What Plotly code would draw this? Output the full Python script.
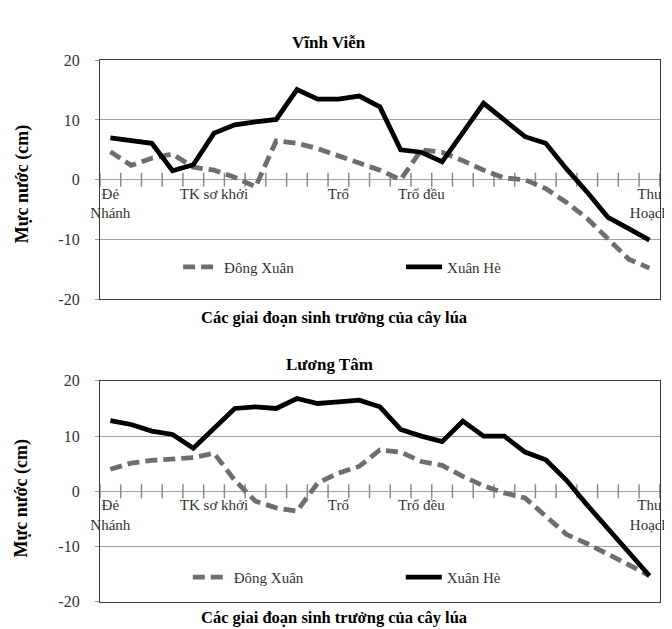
import plotly.graph_objects as go

# ---------------- data ----------------
stage_index = list(range(27))
label_index = [0, 5, 11, 15, 26]
label_text = ["Đẻ<br>Nhánh", "TK sơ khởi", "Trổ", "Trổ đều", "Thu<br>Hoạch"]
boundary_ticks = [-0.5 + i for i in range(28)]
y_ticks = [-20, -10, 0, 10, 20]
y_tick_text = ["-20", "-10", "0", "10", "20"]

vinh_vien_dong_xuan = [4.7, 2.4, 3.6, 4.3, 2.1, 1.6, 0.4, -1.2, 6.5, 6.1, 5.2, 4.1, 2.8, 1.6, 0.0,
                       5.0, 4.6, 3.2, 1.6, 0.3, 0.0, -1.5, -3.8, -6.5, -10.0, -13.3, -14.8]
vinh_vien_xuan_he = [7.0, 6.5, 6.1, 1.5, 2.5, 7.8, 9.2, 9.7, 10.1, 15.1, 13.5, 13.5, 14.0, 12.2, 5.0,
                     4.6, 3.0, 7.9, 12.8, 10.0, 7.2, 6.1, 1.8, -2.1, -6.3, -8.2, -10.1]
luong_tam_dong_xuan = [4.0, 5.1, 5.6, 5.8, 6.1, 6.9, 2.0, -1.8, -3.0, -3.6, 1.5, 3.3, 4.5, 7.5, 7.1,
                       5.4, 4.7, 2.7, 1.0, -0.3, -1.2, -4.5, -7.8, -9.5, -11.3, -13.3, -15.3]
luong_tam_xuan_he = [12.8, 12.1, 10.9, 10.3, 7.8, 11.5, 15.0, 15.3, 15.0, 16.8, 15.9, 16.2, 16.5, 15.3,
                     11.2, 10.0, 9.0, 12.7, 10.0, 10.0, 7.1, 5.7, 2.0, -2.5, -6.8, -11.2, -15.3]

chart_titles = ["Vĩnh Viễn", "Lương Tâm"]
series_names = ["Đông Xuân", "Xuân Hè"]
x_title = "Các giai đoạn sinh trưởng của cây lúa"
y_title = "Mực nước (cm)"

# ---------------- style ----------------
W, H = 672, 629
SERIF = "Liberation Serif"
GRAY = "#6e6e6e"
FRAME = "#3a3a3a"
GRID = "#a0a0a0"


def py(px):
    return 1 - px / H


x_dom = [84.5 / W, 661.5 / W]
top_dom = [py(291), py(45.5)]
bot_dom = [py(602), py(375)]

fig = go.Figure()

panels = [
    (vinh_vien_dong_xuan, vinh_vien_xuan_he, "x", "y", "legend", "x3"),
    (luong_tam_dong_xuan, luong_tam_xuan_he, "x2", "y2", "legend2", "x4"),
]
for dx, xh, xa, ya, lg, xl in panels:
    # invisible helper trace so that the category-label axis (crossing at y=0) is drawn
    fig.add_trace(go.Scatter(x=label_index, y=[0] * len(label_index), mode="markers",
                             marker=dict(opacity=0, size=1), showlegend=False,
                             hoverinfo="skip", xaxis=xl, yaxis=ya))
    # category-boundary tick marks on the horizontal axis at y = 0
    fig.add_trace(go.Scatter(x=boundary_ticks, y=[0] * len(boundary_ticks), mode="markers",
                             marker=dict(symbol="line-ns", size=10, color="#8a8a8a",
                                         line=dict(width=1.5, color="#8a8a8a")),
                             showlegend=False, hoverinfo="skip", xaxis=xa, yaxis=ya,
                             cliponaxis=False))
    fig.add_trace(go.Scatter(x=stage_index, y=dx, mode="lines", name=series_names[0],
                             line=dict(color=GRAY, width=4.8, dash="12px,6px"),
                             xaxis=xa, yaxis=ya, legend=lg))
    fig.add_trace(go.Scatter(x=stage_index, y=xh, mode="lines", name=series_names[1],
                             line=dict(color="black", width=4.8),
                             xaxis=xa, yaxis=ya, legend=lg))

frame_x = dict(range=[-0.5, 26.5], showline=True, mirror=True, linecolor=FRAME, linewidth=1.3,
               showticklabels=False, ticks="", showgrid=False, zeroline=False, fixedrange=True)
frame_y = dict(range=[-20, 20], tickmode="array", tickvals=y_ticks, ticktext=y_tick_text,
               showline=True, mirror=True, linecolor=FRAME,
               linewidth=1.3, ticks="outside", ticklen=4, tickcolor="#999999",
               tickfont=dict(family=SERIF, size=16, color="#333333"),
               showgrid=True, gridcolor=GRID, gridwidth=1.3, zeroline=False, ticklabelstandoff=12)


def label_axis(overlay, position):
    return dict(overlaying=overlay, anchor="free", position=position, range=[-0.5, 26.5],
                tickmode="array", tickvals=label_index, ticktext=label_text, ticks="",
                tickfont=dict(family=SERIF, size=15, color="#333333"),
                showgrid=False, zeroline=False, showline=False, side="bottom",
                ticklabelstandoff=3)


top_mid = (top_dom[0] + top_dom[1]) / 2
bot_mid = (bot_dom[0] + bot_dom[1]) / 2

fig.update_layout(
    width=W, height=H, margin=dict(l=0, r=0, t=0, b=0),
    paper_bgcolor="white", plot_bgcolor="white",
    xaxis=dict(domain=x_dom, anchor="y", **frame_x),
    yaxis=dict(domain=top_dom, anchor="x", **frame_y),
    xaxis2=dict(domain=x_dom, anchor="y2", **frame_x),
    yaxis2=dict(domain=bot_dom, anchor="x2", **frame_y),
    xaxis3=label_axis("x", top_mid),
    xaxis4=label_axis("x2", bot_mid),
    legend=dict(orientation="h", x=165 / W, xanchor="left", y=py(258), yanchor="middle",
                bgcolor="rgba(0,0,0,0)", font=dict(family=SERIF, size=15, color="#333333"),
                entrywidthmode="pixels", entrywidth=172, itemwidth=36),
    legend2=dict(orientation="h", x=175 / W, xanchor="left", y=py(577), yanchor="middle",
                 bgcolor="rgba(0,0,0,0)", font=dict(family=SERIF, size=15, color="#333333"),
                 entrywidthmode="pixels", entrywidth=162, itemwidth=36),
    showlegend=True,
)

ann = []
for title, ypx, xtpx, ytpx in [(chart_titles[0], 27, 310, 172), (chart_titles[1], 358, 618, 495)]:
    ann.append(dict(text=title, xref="paper", yref="paper", x=321 / W, y=py(ypx),
                    xanchor="center", yanchor="middle", showarrow=False,
                    font=dict(family=SERIF, size=17, color="black", weight="bold")))
    ann.append(dict(text=x_title, xref="paper", yref="paper", x=326 / W, y=py(xtpx),
                    xanchor="center", yanchor="middle", showarrow=False,
                    font=dict(family=SERIF, size=16.5, color="black", weight="bold")))
    ann.append(dict(text=y_title, xref="paper", yref="paper", x=4 / W, y=py(ytpx),
                    xanchor="center", yanchor="middle", showarrow=False, textangle=-90,
                    font=dict(family=SERIF, size=18, color="black", weight="bold")))
fig.update_layout(annotations=ann)

fig.write_html("out.html")
